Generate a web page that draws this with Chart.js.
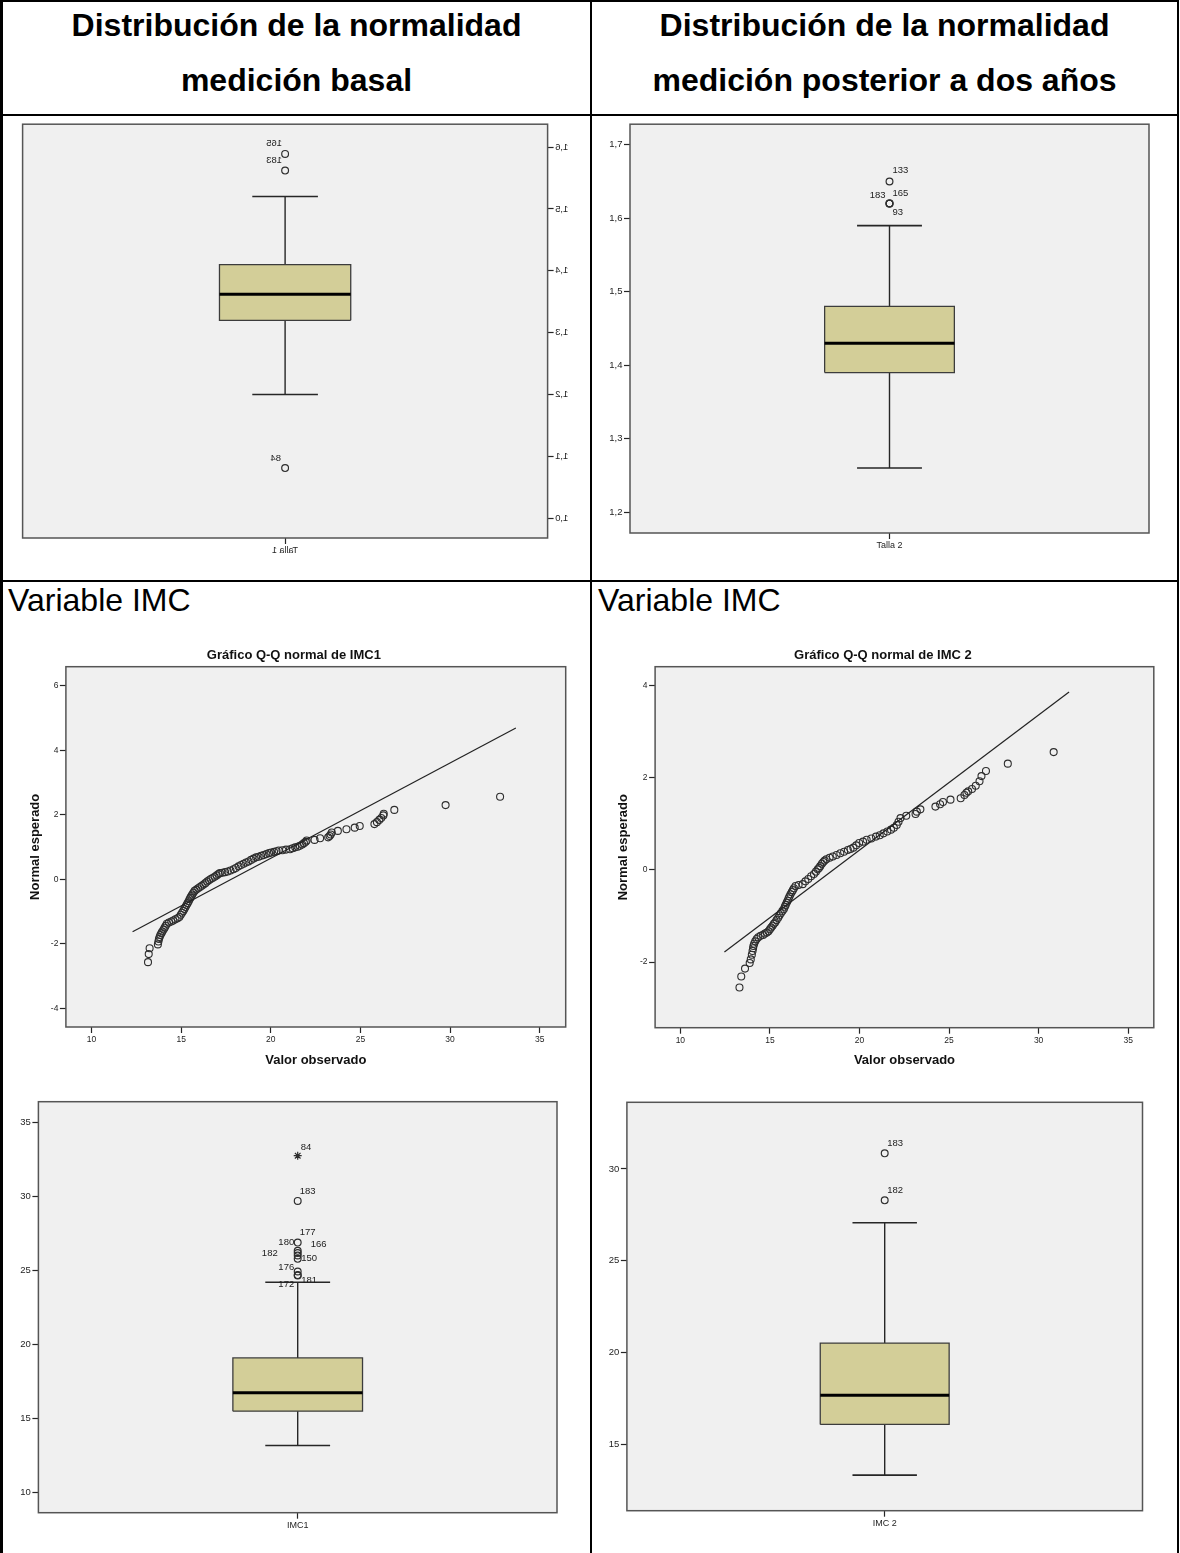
<!DOCTYPE html>
<html lang="es">
<head>
<meta charset="utf-8">
<title>Distribución de la normalidad: Talla e IMC</title>
<script src="https://cdn.jsdelivr.net/npm/chart.js@4.4.1/dist/chart.umd.min.js"></script>
<style>
  html, body { margin: 0; padding: 0; background: #fff; }
  #page { position: relative; width: 1180px; height: 1553px; overflow: hidden;
          font-family: "Liberation Sans", Arial, Helvetica, sans-serif; color: #000; }
  .rule { position: absolute; background: #000; z-index: 2; }
  .head { position: absolute; text-align: center; font-weight: bold; font-size: 32px; line-height: 55px; }
  .sub { position: absolute; font-size: 32px; line-height: 40px; white-space: nowrap; }
  canvas { position: absolute; }
</style>
</head>
<body>
<div id="page">
  <div class="head" style="left:3px;top:-2px;width:587px">Distribución de la normalidad<br>medición basal</div>
  <div class="head" style="left:592px;top:-2px;width:585px">Distribución de la normalidad<br>medición posterior a dos años</div>
  <div class="sub" style="left:8px;top:580px">Variable IMC</div>
  <div class="sub" style="left:598px;top:580px">Variable IMC</div>

  <canvas id="talla1" width="586" height="460" style="left:4px;top:117px;transform:scaleX(-1)"></canvas>
  <canvas id="talla2" width="584" height="460" style="left:593px;top:117px"></canvas>
  <canvas id="qq1" width="564" height="440" style="left:22px;top:640px"></canvas>
  <canvas id="qq2" width="562" height="440" style="left:612px;top:640px"></canvas>
  <canvas id="box1" width="586" height="463" style="left:4px;top:1090px"></canvas>
  <canvas id="box2" width="584" height="463" style="left:593px;top:1090px"></canvas>

  <!-- table rules -->
  <div class="rule" style="left:0;top:0;width:3px;height:1553px"></div>
  <div class="rule" style="left:590px;top:0;width:2px;height:1553px"></div>
  <div class="rule" style="left:1177px;top:0;width:2px;height:1553px"></div>
  <div class="rule" style="left:0;top:0;width:1179px;height:2px"></div>
  <div class="rule" style="left:0;top:114px;width:1179px;height:2px"></div>
  <div class="rule" style="left:0;top:580px;width:1179px;height:2px"></div>
</div>

<script>
// Talla (m): whisker low, Q1, median, Q3, whisker high
const talla1Ticks = [1.0, 1.1, 1.2, 1.3, 1.4, 1.5, 1.6];
const talla1Box = [1.20, 1.32, 1.362, 1.41, 1.52];
const talla1Outliers = [1.589, 1.562, 1.081];
const talla1Cases = ['165', '183', '84'];

const talla2Ticks = [1.2, 1.3, 1.4, 1.5, 1.6, 1.7];
const talla2Box = [1.26, 1.39, 1.43, 1.48, 1.59];
const talla2Outliers = [1.65, 1.62, 1.62, 1.62];
const talla2Cases = ['133', '183', '165', '93'];

// IMC boxplots
const imc1Ticks = [10, 15, 20, 25, 30, 35];
const imc1Box = [13.17, 15.49, 16.73, 19.09, 24.21];
const imc1Outliers = [32.77, 29.71, 26.89, 26.33, 26.18, 26.02, 25.79, 24.93, 24.69, 24.66];
const imc1Cases = ['84', '183', '177', '180', '166', '182', '150', '176', '181', '172'];
const imc1Extreme = ['84'];

const imc2Ticks = [15, 20, 25, 30];
const imc2Box = [13.33, 16.09, 17.68, 20.52, 27.07];
const imc2Outliers = [30.85, 28.29];
const imc2Cases = ['183', '182'];

// Q-Q plots: observed IMC vs expected normal score
const qqXTicks = [10, 15, 20, 25, 30, 35];
const qq1YTicks = [-4, -2, 0, 2, 4, 6];
const qq2YTicks = [-2, 0, 2, 4];

const imc1Observed = [
  13.15, 13.19, 13.24, 13.70, 13.73, 13.76, 13.80, 13.84, 13.90, 13.95,
  14.02, 14.08, 14.14, 14.20, 14.32, 14.45, 14.56, 14.68, 14.80, 14.90,
  14.98, 15.05, 15.12, 15.18, 15.24, 15.30, 15.36, 15.42, 15.47, 15.52,
  15.57, 15.62, 15.68, 15.75, 15.85, 15.95, 16.05, 16.15, 16.25, 16.35,
  16.45, 16.55, 16.65, 16.75, 16.87, 16.98, 17.08, 17.16, 17.30, 17.45,
  17.60, 17.75, 17.92, 18.05, 18.20, 18.34, 18.48, 18.62, 18.76, 18.90,
  19.04, 19.18, 19.32, 19.46, 19.60, 19.75, 19.90, 20.02, 20.18, 20.32,
  20.44, 20.65, 20.85, 21.07, 21.22, 21.36, 21.50, 21.62, 21.75, 21.85,
  21.95, 22.00, 22.44, 22.75, 23.20, 23.28, 23.34, 23.40, 23.74, 24.22,
  24.68, 24.96, 25.78, 25.92, 26.05, 26.16, 26.28, 26.30, 26.89, 29.75,
  32.79
];
const imc1Expected = [
  -2.57, -2.32, -2.14, -2.02, -1.93, -1.85, -1.79, -1.73, -1.67, -1.62,
  -1.56, -1.50, -1.44, -1.38, -1.34, -1.31, -1.28, -1.24, -1.21, -1.17,
  -1.10, -1.04, -0.98, -0.92, -0.86, -0.80, -0.74, -0.68, -0.62, -0.57,
  -0.52, -0.47, -0.42, -0.36, -0.32, -0.28, -0.24, -0.20, -0.16, -0.12,
  -0.07, -0.03, 0.01, 0.04, 0.08, 0.12, 0.16, 0.19, 0.20, 0.22,
  0.24, 0.27, 0.31, 0.35, 0.40, 0.44, 0.48, 0.52, 0.55, 0.60,
  0.64, 0.68, 0.70, 0.73, 0.75, 0.78, 0.81, 0.83, 0.85, 0.87,
  0.89, 0.90, 0.92, 0.93, 0.96, 0.99, 1.01, 1.04, 1.08, 1.12,
  1.16, 1.20, 1.22, 1.27, 1.30, 1.34, 1.39, 1.45, 1.50, 1.55,
  1.60, 1.65, 1.71, 1.77, 1.84, 1.90, 1.98, 2.03, 2.15, 2.30,
  2.56
];
const imc1LineX = [12.29, 33.67];
const imc1LineY = [-1.63, 4.69];

const imc2Observed = [
  13.30, 13.40, 13.61, 13.87, 13.93, 13.99, 14.03, 14.06, 14.08, 14.12,
  14.18, 14.26, 14.35, 14.48, 14.62, 14.72, 14.83, 14.92, 15.00, 15.07,
  15.15, 15.22, 15.29, 15.37, 15.46, 15.53, 15.61, 15.70, 15.78, 15.83,
  15.88, 15.94, 15.99, 16.04, 16.09, 16.15, 16.22, 16.28, 16.34, 16.43,
  16.60, 16.83, 16.98, 17.14, 17.30, 17.46, 17.57, 17.67, 17.74, 17.81,
  17.90, 17.98, 18.06, 18.15, 18.33, 18.51, 18.72, 18.93, 19.14, 19.35,
  19.50, 19.66, 19.82, 19.98, 20.20, 20.40, 20.66, 20.92, 21.13, 21.34,
  21.55, 21.76, 21.92, 22.08, 22.18, 22.29, 22.61, 23.13, 23.20, 23.40,
  24.24, 24.50, 24.66, 25.08, 25.65, 25.86, 25.97, 26.07, 26.28, 26.49,
  26.70, 26.81, 27.06, 28.28, 30.84
];
const imc2Expected = [
  -2.55, -2.31, -2.14, -2.02, -1.94, -1.84, -1.76, -1.70, -1.65, -1.60,
  -1.55, -1.50, -1.46, -1.43, -1.41, -1.38, -1.36, -1.33, -1.29, -1.25,
  -1.21, -1.17, -1.14, -1.09, -1.04, -0.99, -0.94, -0.89, -0.85, -0.80,
  -0.76, -0.71, -0.67, -0.62, -0.58, -0.53, -0.48, -0.44, -0.40, -0.35,
  -0.33, -0.31, -0.25, -0.20, -0.14, -0.09, -0.04, 0.01, 0.04, 0.08,
  0.13, 0.17, 0.20, 0.23, 0.26, 0.29, 0.32, 0.36, 0.39, 0.43,
  0.45, 0.48, 0.53, 0.58, 0.61, 0.65, 0.68, 0.72, 0.75, 0.79,
  0.83, 0.87, 0.91, 0.97, 1.04, 1.12, 1.17, 1.21, 1.26, 1.31,
  1.37, 1.42, 1.47, 1.52, 1.55, 1.62, 1.67, 1.70, 1.75, 1.82,
  1.92, 2.03, 2.14, 2.30, 2.55
];
const imc2LineX = [12.46, 31.70];
const imc2LineY = [-1.78, 3.85];

// ---- styling ----
const FONT = '"Liberation Sans", Arial, Helvetica, sans-serif';
const INK = '#262626';
const BOX_FILL = '#d3ce98';
const PLOT_BG = '#f0f0f0';
const BOX_HALF = 0.25;   // box half width on the [-1, 1] category axis
const CAP_HALF = 0.125;

// case label offsets from each outlier marker (px)
const talla1LabelPos = [[3, -11], [3, -10.5], [4, -10]];
const talla2LabelPos = [[3, -11], [-4, -8], [3, -10], [3, 9]];
const imc1LabelPos = [[3, -8], [2, -10], [2, -10], [-3.5, -8.5], [13, -9], [-20, -2],
                      [3.5, 0], [-3.5, -4.6], [3.5, 5.6], [-3.5, 8.4]];
const imc2LabelPos = [[2.5, -10], [2.5, -10]];

Chart.defaults.font.family = FONT;
Chart.defaults.color = '#1e1e1e';

function commaDecimal(v) {
  return v.toFixed(1).replace('.', ',');
}

// grey plot area with a dark frame, like the SPSS output
const plotFrame = {
  id: 'plotFrame',
  beforeDraw(chart) {
    const { ctx, chartArea: a } = chart;
    ctx.save();
    ctx.fillStyle = PLOT_BG;
    ctx.fillRect(a.left, a.top, a.width, a.height);
    ctx.restore();
  },
  beforeDatasetsDraw(chart) {
    const { ctx, chartArea: a } = chart;
    ctx.save();
    ctx.strokeStyle = '#555';
    ctx.lineWidth = 1.5;
    ctx.strokeRect(a.left, a.top, a.width, a.height);
    ctx.restore();
  }
};

// case numbers next to the outlier markers
function caseLabels(texts, offsets, datasetIndex) {
  return {
    id: 'caseLabels',
    afterDatasetsDraw(chart) {
      const meta = chart.getDatasetMeta(datasetIndex);
      const ctx = chart.ctx;
      ctx.save();
      ctx.font = '9.5px ' + FONT;
      ctx.fillStyle = '#222';
      ctx.textBaseline = 'middle';
      meta.data.forEach((pt, i) => {
        const [dx, dy] = offsets[i];
        ctx.textAlign = dx < 0 ? 'right' : 'left';
        ctx.fillText(texts[i], pt.x + dx, pt.y + dy);
      });
      ctx.restore();
    }
  };
}

function tickGrid() {
  return { drawOnChartArea: false, drawTicks: true, tickLength: 6, tickColor: INK, tickWidth: 1.2 };
}

function drawBoxplot(id, opt) {
  const [lo, q1, med, q3, hi] = opt.box;
  const line = (data, extra) => Object.assign({
    type: 'line', data, pointRadius: 0, borderColor: INK, borderWidth: 1.4, tension: 0, fill: false
  }, extra);

  new Chart(document.getElementById(id), {
    type: 'line',
    data: {
      datasets: [
        // whisker stem
        line([{ x: 0, y: lo }, { x: 0, y: hi }], { order: 6 }),
        // box body
        line([{ x: -BOX_HALF, y: q3 }, { x: BOX_HALF, y: q3 }],
             { fill: { value: q1 }, backgroundColor: BOX_FILL, borderWidth: 0, order: 5 }),
        // box outline
        line([{ x: -BOX_HALF, y: q1 }, { x: BOX_HALF, y: q1 }, { x: BOX_HALF, y: q3 },
              { x: -BOX_HALF, y: q3 }, { x: -BOX_HALF, y: q1 }],
             { borderColor: '#3c3c3c', borderWidth: 1.3, order: 4 }),
        // median
        line([{ x: -BOX_HALF, y: med }, { x: BOX_HALF, y: med }],
             { borderColor: '#000', borderWidth: 3, order: 3 }),
        // whisker caps
        line([{ x: -CAP_HALF, y: hi }, { x: CAP_HALF, y: hi }, { x: 0, y: null },
              { x: -CAP_HALF, y: lo }, { x: CAP_HALF, y: lo }],
             { borderWidth: 1.6, order: 2 }),
        // outliers
        {
          type: 'scatter',
          data: opt.outliers.map(v => ({ x: 0, y: v })),
          pointStyle: opt.cases.map(c => (opt.extreme || []).includes(c) ? 'star' : 'circle'),
          pointRadius: opt.cases.map(c => (opt.extreme || []).includes(c) ? 4 : 3.4),
          borderColor: '#2e2e2e',
          backgroundColor: 'rgba(0,0,0,0)',
          borderWidth: 1.2,
          order: 1
        }
      ]
    },
    options: {
      responsive: false,
      devicePixelRatio: 1,
      animation: false,
      events: [],
      layout: { padding: { left: 0, right: opt.padRight, top: opt.padTop, bottom: 0 } },
      plugins: { legend: { display: false }, tooltip: { enabled: false } },
      scales: {
        x: {
          type: 'linear', min: -1, max: 1,
          afterBuildTicks: s => { s.ticks = [{ value: 0 }]; },
          afterFit: s => { s.height = opt.xh; },
          ticks: { callback: () => opt.name, font: { size: 9 }, padding: 1, maxRotation: 0, autoSkip: false },
          grid: tickGrid(),
          border: { display: false }
        },
        y: {
          type: 'linear', min: opt.yMin, max: opt.yMax,
          afterBuildTicks: s => { s.ticks = opt.ticks.map(v => ({ value: v })); },
          afterFit: s => { s.width = opt.yw; },
          ticks: { callback: opt.format, font: { size: 9.5 }, padding: 1.5 },
          grid: tickGrid(),
          border: { display: false }
        }
      }
    },
    plugins: [plotFrame, caseLabels(opt.cases, opt.labelPos, 5)]
  });
}

function drawQQ(id, opt) {
  new Chart(document.getElementById(id), {
    type: 'scatter',
    data: {
      datasets: [
        {
          data: opt.observed.map((x, i) => ({ x, y: opt.expected[i] })),
          pointRadius: 3.5,
          borderColor: '#2e2e2e',
          backgroundColor: 'rgba(0,0,0,0)',
          borderWidth: 1.1,
          order: 2
        },
        {
          type: 'line',
          data: opt.lineX.map((x, i) => ({ x, y: opt.lineY[i] })),
          borderColor: '#222',
          borderWidth: 1.2,
          pointRadius: 0,
          order: 1
        }
      ]
    },
    options: {
      responsive: false,
      devicePixelRatio: 1,
      animation: false,
      events: [],
      layout: { padding: { left: 0, right: opt.padRight, top: 0, bottom: 0 } },
      plugins: {
        legend: { display: false },
        tooltip: { enabled: false },
        title: {
          display: true,
          text: opt.title,
          color: '#111',
          font: { size: 13, weight: 'bold' },
          padding: { top: 7.2, bottom: 3.9 }
        }
      },
      scales: {
        x: {
          type: 'linear', min: opt.xMin, max: opt.xMax,
          afterBuildTicks: s => { s.ticks = qqXTicks.map(v => ({ value: v })); },
          afterFit: s => { s.height = opt.xh; },
          ticks: { font: { size: 8.5 }, padding: 2, maxRotation: 0, autoSkip: false },
          grid: tickGrid(),
          border: { display: false },
          title: {
            display: true, text: 'Valor observado', color: '#111',
            font: { size: 13, weight: 'bold' }, padding: { top: 0, bottom: 11.5 }
          }
        },
        y: {
          type: 'linear', min: opt.yMin, max: opt.yMax,
          afterBuildTicks: s => { s.ticks = opt.yTicks.map(v => ({ value: v })); },
          afterFit: s => { s.width = opt.yw; },
          ticks: { font: { size: 8.5 }, padding: 1.5 },
          grid: tickGrid(),
          border: { display: false },
          title: {
            display: true, text: 'Normal esperado', color: '#111',
            font: { size: 13, weight: 'bold' }, padding: { top: opt.yTitlePad, bottom: 0 }
          }
        }
      }
    },
    plugins: [plotFrame]
  });
}

document.addEventListener('DOMContentLoaded', function() {
  drawBoxplot('talla1', {
    name: 'Talla 1', box: talla1Box, outliers: talla1Outliers, cases: talla1Cases,
    ticks: talla1Ticks, labelPos: talla1LabelPos, format: commaDecimal,
    yMin: 0.968, yMax: 1.637, yw: 42.4, xh: 39, padRight: 18.6, padTop: 4
  });
  drawBoxplot('talla2', {
    name: 'Talla 2', box: talla2Box, outliers: talla2Outliers, cases: talla2Cases,
    ticks: talla2Ticks, labelPos: talla2LabelPos, format: commaDecimal,
    yMin: 1.1716, yMax: 1.728, yw: 37, xh: 44, padRight: 28, padTop: 4
  });
  drawQQ('qq1', {
    title: 'Gráfico Q-Q normal de IMC1', observed: imc1Observed, expected: imc1Expected,
    lineX: imc1LineX, lineY: imc1LineY, yTicks: qq1YTicks,
    xMin: 8.57, xMax: 36.45, yMin: -4.58, yMax: 6.59, yw: 43.9, xh: 53, padRight: 20.3, yTitlePad: 6
  });
  drawQQ('qq2', {
    title: 'Gráfico Q-Q normal de IMC 2', observed: imc2Observed, expected: imc2Expected,
    lineX: imc2LineX, lineY: imc2LineY, yTicks: qq2YTicks,
    xMin: 8.59, xMax: 36.43, yMin: -3.42, yMax: 4.40, yw: 43.1, xh: 52.3, padRight: 20.2, yTitlePad: 4.1
  });
  drawBoxplot('box1', {
    name: 'IMC1', box: imc1Box, outliers: imc1Outliers, cases: imc1Cases, extreme: imc1Extreme,
    ticks: imc1Ticks, labelPos: imc1LabelPos, format: v => String(v),
    yMin: 8.62, yMax: 36.42, yw: 34.4, xh: 40.3, padRight: 33, padTop: 11.7
  });
  drawBoxplot('box2', {
    name: 'IMC 2', box: imc2Box, outliers: imc2Outliers, cases: imc2Cases,
    ticks: imc2Ticks, labelPos: imc2LabelPos, format: v => String(v),
    yMin: 11.39, yMax: 33.63, yw: 33.9, xh: 42.3, padRight: 34.5, padTop: 12.3
  });
});
</script>
</body>
</html>
